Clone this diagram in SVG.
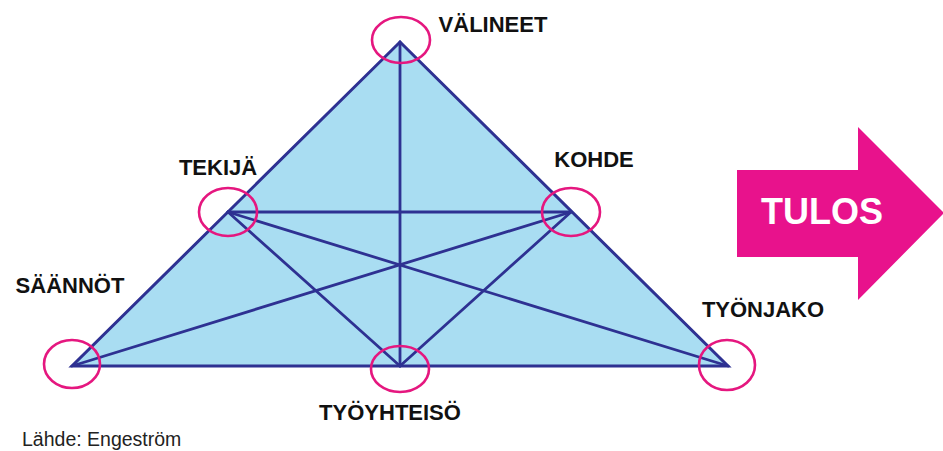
<svg xmlns="http://www.w3.org/2000/svg" width="943" height="451" viewBox="0 0 943 451">
  <style>
    .lbl { font-family: "Liberation Sans", Arial, sans-serif; font-weight: bold; font-size: 22px; fill: #111111; text-anchor: middle; }
    .edge { stroke: #2E3192; stroke-width: 2.8; fill: none; stroke-linecap: round; }
    .ring { stroke: #E5177F; stroke-width: 2.6; fill: none; }
  </style>
  <rect width="943" height="451" fill="#ffffff"/>

  <g id="triangle">
    <polygon points="400,42 728,366 72,366" fill="#A9DDF2" stroke="#2E3192" stroke-width="3" stroke-linejoin="miter"/>
  </g>

  <g id="connectors">
    <line class="edge" x1="400" y1="42" x2="400" y2="366"/>
    <line class="edge" x1="228" y1="212" x2="571" y2="212"/>
    <line class="edge" x1="228" y1="212" x2="400" y2="366"/>
    <line class="edge" x1="571" y1="212" x2="400" y2="366"/>
    <line class="edge" x1="228" y1="212" x2="728" y2="366"/>
    <line class="edge" x1="571" y1="212" x2="72" y2="366"/>
  </g>

  <g id="node-valineet">
    <ellipse class="ring" cx="401" cy="40" rx="29" ry="23"/>
    <text class="lbl" x="493" y="32">VÄLINEET</text>
  </g>
  <g id="node-tekija">
    <ellipse class="ring" cx="228" cy="212" rx="29" ry="24"/>
    <text class="lbl" x="218" y="175">TEKIJÄ</text>
  </g>
  <g id="node-kohde">
    <ellipse class="ring" cx="571" cy="212" rx="29" ry="24"/>
    <text class="lbl" x="594" y="167">KOHDE</text>
  </g>
  <g id="node-saannot">
    <ellipse class="ring" cx="72" cy="364" rx="28" ry="24"/>
    <text class="lbl" x="70" y="293">SÄÄNNÖT</text>
  </g>
  <g id="node-tyoyhteiso">
    <ellipse class="ring" cx="400" cy="369" rx="29" ry="23"/>
    <text class="lbl" x="390" y="420">TYÖYHTEISÖ</text>
  </g>
  <g id="node-tyonjako">
    <ellipse class="ring" cx="727" cy="365" rx="28" ry="25"/>
    <text class="lbl" x="763" y="317">TYÖNJAKO</text>
  </g>

  <g id="node-tulos">
    <polygon points="737,170 858,170 858,127 944,213 858,300 858,257 737,257" fill="#E8128C"/>
    <text x="822" y="224" font-family="Liberation Sans, Arial, sans-serif" font-weight="bold" font-size="36" fill="#ffffff" text-anchor="middle">TULOS</text>
  </g>

  <g id="source">
    <text x="22" y="446" font-family="Liberation Sans, Arial, sans-serif" font-size="19.5" fill="#222222">Lähde: Engeström</text>
  </g>
</svg>
